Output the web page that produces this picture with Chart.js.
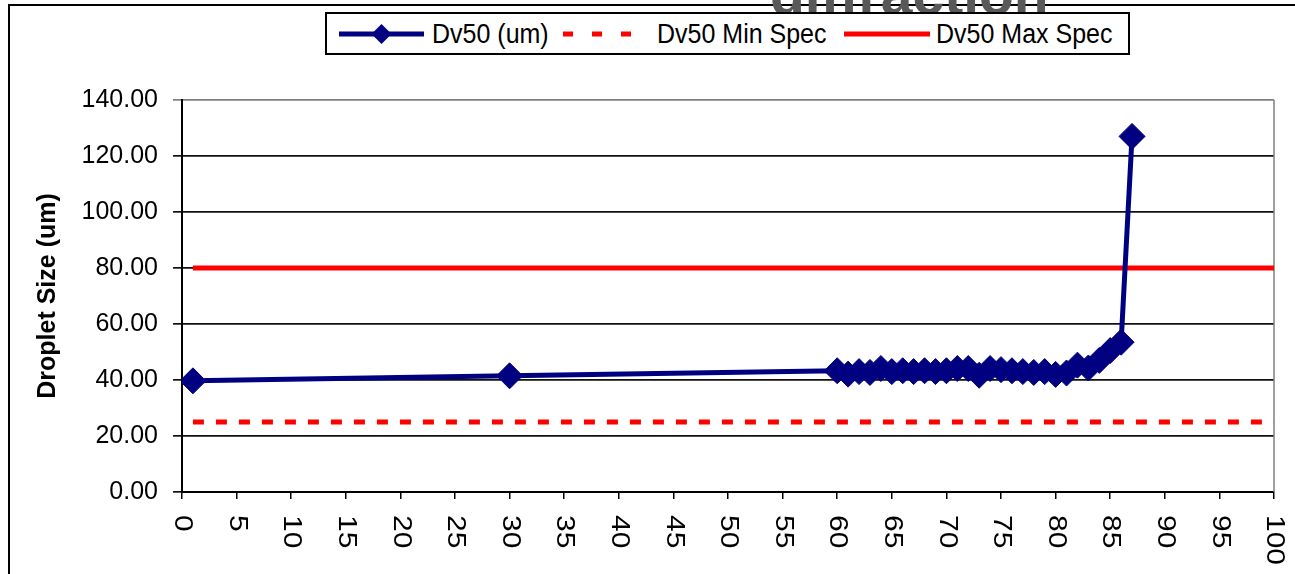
<!DOCTYPE html>
<html>
<head>
<meta charset="utf-8">
<script src="https://cdn.jsdelivr.net/npm/chart.js@4.4.1/dist/chart.umd.min.js"></script>
<style>
  html, body { margin: 0; padding: 0; background: #fff; }
  #wrap { position: relative; width: 1295px; height: 574px; overflow: hidden; font-family: "Liberation Sans", Arial, sans-serif; }
  #frame { position: absolute; left: 8px; top: 4px; width: 1300px; height: 600px; border-left: 2px solid #000; border-top: 2px solid #000; }
  #title { position: absolute; left: 770px; top: -34px; font: bold 57px "Liberation Sans", Arial, sans-serif; color: #595959; line-height: 57px; white-space: nowrap; }
  #box { position: absolute; left: 0; top: 0; width: 1295px; height: 574px; }
  #legend { position: absolute; left: 325px; top: 12px; width: 805px; height: 43px; border: 2px solid #000; box-sizing: border-box; background: #fff; }
  #legend svg { position: absolute; top: 0; }
  #legend span { position: absolute; top: 5px; font-size: 25px; line-height: 28px; color: #000; white-space: nowrap; transform: scaleY(1.1); transform-origin: 0 50%; }
</style>
</head>
<body>
<div id="wrap">
  <div id="frame"></div>
  <div id="title">diffraction</div>
  <div id="box"><canvas id="chart"></canvas></div>
  <div id="legend"></div>
</div>
<script>
// data
const xPoints = [1, 30, 60, 61, 62, 63, 64, 65, 66, 67, 68, 69, 70, 71, 72, 73, 74,
  75, 76, 77, 78, 79, 80, 81, 82, 83, 84, 85, 86, 87];
const dv50 = [39.7, 41.5, 43.3, 42.1, 43.0, 42.7, 44.1, 43.0, 43.3, 43.0, 43.3, 43.0,
  43.3, 44.1, 44.1, 41.7, 44.1, 43.7, 43.3, 43.0, 42.7, 43.0, 42.0, 42.5, 45.3, 44.3,
  47.0, 50.5, 53.5, 127.0];
const specX = [1, 100];
const minSpec = [25, 25];
const maxSpec = [80, 80];
const xTicks = [0, 5, 10, 15, 20, 25, 30, 35, 40, 45, 50, 55, 60, 65, 70, 75, 80, 85, 90, 95, 100];
const yTicks = [0, 20, 40, 60, 80, 100, 120, 140];
const seriesNames = ['Dv50 (um)', 'Dv50 Min Spec', 'Dv50 Max Spec'];

const FONT = '"Liberation Sans", Arial, sans-serif';
const NAVY = '#000080';
const RED = '#ff0000';

const toXY = (xs, ys) => xs.map((x, i) => ({ x: x, y: ys[i] }));

// vertical x labels, reading top to bottom
const xLabelPlugin = {
  id: 'xLabels',
  afterDraw(chart) {
    const sc = chart.scales.x;
    const ctx = chart.ctx;
    ctx.save();
    ctx.font = '25px ' + FONT;
    ctx.fillStyle = '#000';
    ctx.textAlign = 'left';
    ctx.textBaseline = 'middle';
    xTicks.forEach(v => {
      ctx.save();
      ctx.translate(sc.getPixelForValue(v), sc.top + 23);
      ctx.rotate(Math.PI / 2);
      ctx.scale(1.2, 1);
      ctx.fillText(String(v), 0, 0);
      ctx.restore();
    });
    ctx.restore();
  }
};

// grey plot-area edge on the right
const plotEdge = {
  id: 'plotEdge',
  beforeDatasetsDraw(chart) {
    const a = chart.chartArea;
    const ctx = chart.ctx;
    ctx.save();
    ctx.strokeStyle = '#808080';
    ctx.lineWidth = 1.5;
    ctx.beginPath();
    ctx.moveTo(a.right, a.top);
    ctx.lineTo(a.right, a.bottom);
    ctx.stroke();
    ctx.restore();
  }
};

const chart = new Chart(document.getElementById('chart'), {
  type: 'scatter',
  data: {
    datasets: [
      {
        label: seriesNames[0],
        data: toXY(xPoints, dv50),
        showLine: true,
        borderColor: NAVY,
        backgroundColor: NAVY,
        borderWidth: 5,
        pointStyle: 'rectRot',
        pointRadius: 13,
        pointBorderWidth: 1,
        pointBackgroundColor: NAVY,
        pointBorderColor: NAVY,
      },
      {
        label: seriesNames[1],
        data: toXY(specX, minSpec),
        showLine: true,
        borderColor: RED,
        borderWidth: 5,
        borderDash: [11, 12],
        pointRadius: 0,
      },
      {
        label: seriesNames[2],
        data: toXY(specX, maxSpec),
        showLine: true,
        borderColor: RED,
        borderWidth: 5,
        pointRadius: 0,
      }
    ]
  },
  options: {
    responsive: true,
    maintainAspectRatio: false,
    animation: false,
    layout: { padding: { top: 100, right: 21, bottom: 0, left: 0 } },
    plugins: {
      legend: { display: false },
      tooltip: { enabled: false }
    },
    scales: {
      x: {
        type: 'linear',
        min: 0,
        max: 100,
        afterBuildTicks: (s) => { s.ticks = xTicks.map(v => ({ value: v })); },
        afterFit: (s) => { s.height = 82; },
        ticks: { display: false },
        grid: { drawOnChartArea: false, drawTicks: true, tickLength: 7, color: '#000', lineWidth: 1.5 },
        border: { color: '#000', width: 2 }
      },
      y: {
        min: 0,
        max: 140,
        afterBuildTicks: (s) => { s.ticks = yTicks.map(v => ({ value: v })); },
        afterFit: (s) => { s.width = 182; },
        ticks: {
          color: '#000',
          padding: 15,
          font: { family: FONT, size: 25 },
          callback: (v) => Number(v).toFixed(2)
        },
        grid: {
          color: (c) => (c.tick && c.tick.value === 140 ? '#808080' : '#111'),
          lineWidth: 1.7,
          tickLength: 9
        },
        border: { color: '#000', width: 2 },
        title: {
          display: true,
          text: 'Droplet Size (um)',
          color: '#000',
          font: { family: FONT, size: 25, weight: 'bold' },
          padding: { top: 33, bottom: 0 }
        }
      }
    }
  },
  plugins: [xLabelPlugin, plotEdge]
});

// legend built from the datasets
const legendSlots = [
  { sx: 12, sw: 85, text: 105 },
  { sx: 236, sw: 70, text: 330 },
  { sx: 517, sw: 86, text: 609 }
];
const legend = document.getElementById('legend');
chart.data.datasets.forEach((ds, i) => {
  const slot = legendSlots[i];
  const svgNS = 'http://www.w3.org/2000/svg';
  const svg = document.createElementNS(svgNS, 'svg');
  svg.setAttribute('width', slot.sw);
  svg.setAttribute('height', 40);
  svg.style.left = slot.sx + 'px';
  const line = document.createElementNS(svgNS, 'line');
  line.setAttribute('x1', 0);
  line.setAttribute('x2', slot.sw);
  line.setAttribute('y1', 20);
  line.setAttribute('y2', 20);
  line.setAttribute('stroke', ds.borderColor);
  line.setAttribute('stroke-width', 5);
  if (ds.borderDash) {
    line.setAttribute('stroke-dasharray', '10 19');
  }
  svg.appendChild(line);
  if (ds.pointRadius > 0) {
    const c = slot.sw / 2, r = 10;
    const d = document.createElementNS(svgNS, 'polygon');
    d.setAttribute('points', `${c - r},20 ${c},${20 - r} ${c + r},20 ${c},${20 + r}`);
    d.setAttribute('fill', ds.borderColor);
    svg.appendChild(d);
  }
  legend.appendChild(svg);
  const span = document.createElement('span');
  span.textContent = ds.label;
  span.style.left = slot.text + 'px';
  legend.appendChild(span);
});
</script>
</body>
</html>
